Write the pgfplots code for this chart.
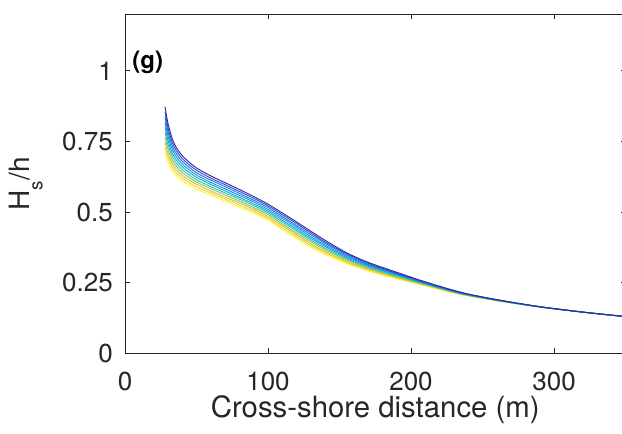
\documentclass[border=0pt]{standalone}
\usepackage{fontspec}
\setmainfont{TeX Gyre Heros}
\usepackage{pgfplots}
\usepackage{pgfplotstable}
\pgfplotsset{compat=1.18}
\definecolor{axgray}{rgb}{0.15,0.15,0.15}
\definecolor{p1}{rgb}{0.1900,0.1600,0.6000}
\definecolor{p2}{rgb}{0.1600,0.3000,0.8600}
\definecolor{p3}{rgb}{0.1200,0.4500,0.9200}
\definecolor{p4}{rgb}{0.0800,0.5800,0.8700}
\definecolor{p5}{rgb}{0.0300,0.6800,0.8200}
\definecolor{p6}{rgb}{0.2000,0.7600,0.6400}
\definecolor{p7}{rgb}{0.5000,0.7900,0.4000}
\definecolor{p8}{rgb}{0.8200,0.7500,0.2300}
\definecolor{p9}{rgb}{0.9900,0.8000,0.2000}
\definecolor{p10}{rgb}{0.9769,0.9839,0.0805}
\pgfplotstableread{
x   c1    c2    c3    c4    c5    c6    c7    c8    c9    c10
28  0.873 0.855 0.837 0.819 0.801 0.782 0.764 0.746 0.728 0.710
30  0.815 0.800 0.785 0.770 0.755 0.740 0.725 0.710 0.695 0.680
33  0.760 0.748 0.735 0.723 0.710 0.698 0.685 0.673 0.660 0.648
36  0.728 0.717 0.706 0.695 0.684 0.672 0.661 0.650 0.639 0.628
40  0.700 0.690 0.680 0.670 0.660 0.650 0.640 0.630 0.620 0.610
45  0.676 0.667 0.658 0.649 0.640 0.631 0.622 0.613 0.604 0.595
50  0.656 0.648 0.639 0.631 0.623 0.614 0.606 0.598 0.589 0.581
60  0.628 0.620 0.613 0.605 0.598 0.590 0.583 0.575 0.568 0.560
70  0.604 0.597 0.590 0.582 0.575 0.568 0.561 0.553 0.546 0.539
80  0.580 0.573 0.566 0.559 0.552 0.546 0.539 0.532 0.525 0.518
90  0.555 0.549 0.542 0.536 0.529 0.523 0.516 0.510 0.503 0.497
100 0.528 0.522 0.516 0.509 0.503 0.497 0.491 0.484 0.478 0.472
110 0.497 0.491 0.484 0.478 0.471 0.465 0.458 0.452 0.445 0.439
120 0.465 0.459 0.452 0.446 0.439 0.433 0.426 0.420 0.413 0.407
130 0.432 0.426 0.420 0.413 0.407 0.401 0.395 0.388 0.382 0.376
140 0.400 0.394 0.389 0.383 0.378 0.372 0.367 0.361 0.356 0.350
155 0.356 0.352 0.348 0.343 0.339 0.335 0.331 0.326 0.322 0.318
170 0.322 0.319 0.315 0.312 0.309 0.305 0.302 0.299 0.295 0.292
190 0.287 0.284 0.282 0.279 0.277 0.274 0.272 0.269 0.267 0.264
210 0.253 0.251 0.250 0.248 0.247 0.245 0.244 0.242 0.241 0.239
235 0.216 0.215 0.214 0.213 0.212 0.212 0.211 0.210 0.209 0.208
260 0.190 0.190 0.189 0.189 0.188 0.188 0.187 0.187 0.186 0.186
290 0.165 0.165 0.165 0.165 0.165 0.164 0.164 0.164 0.164 0.164
320 0.146 0.146 0.146 0.146 0.146 0.146 0.146 0.146 0.146 0.146
350 0.130 0.130 0.130 0.130 0.130 0.130 0.130 0.130 0.130 0.130
}\curves
\begin{document}
\begin{tikzpicture}
\begin{axis}[
  scale only axis,
  width=375.4pt, height=254.25pt,
  xmin=0, xmax=350, ymin=0, ymax=1.2,
  xtick={0,100,200,300},
  ytick={0,0.25,0.5,0.75,1},
  tick align=inside,
  major tick length=3.75pt,
  axis line style={axgray, line width=0.6pt},
  every tick/.style={axgray, line width=0.6pt},
  /pgf/number format/assume math mode=true,
  ticklabel style={font=\fontsize{19.5}{22}\selectfont, text=axgray},
  xticklabel style={inner sep=0pt, yshift=-14pt},
  yticklabel style={inner sep=0pt, xshift=-9pt},
  xlabel={Cross-shore distance (m)},
  ylabel={H\raisebox{-0.45em}{\fontsize{14}{14}\selectfont s}/h},
  xlabel style={font=\fontsize{22}{26}\selectfont, text=axgray, at={(axis description cs:0.5,-0.188)}, anchor=base, inner sep=0pt},
  ylabel style={font=\fontsize{21}{24}\selectfont, text=axgray, at={(axis description cs:-0.19,0.5)}, anchor=base, inner sep=0pt},
  every axis plot/.append style={line width=0.7pt, smooth, no markers},
]
\coordinate (bl) at (rel axis cs:0,0);
\addplot[p10] table[x=x,y=c10]{\curves};
\addplot[p9] table[x=x,y=c9]{\curves};
\addplot[p8] table[x=x,y=c8]{\curves};
\addplot[p7] table[x=x,y=c7]{\curves};
\addplot[p6] table[x=x,y=c6]{\curves};
\addplot[p5] table[x=x,y=c5]{\curves};
\addplot[p4] table[x=x,y=c4]{\curves};
\addplot[p3] table[x=x,y=c3]{\curves};
\addplot[p2] table[x=x,y=c2]{\curves};
\addplot[p1] table[x=x,y=c1]{\curves};
\node[anchor=west, inner sep=0pt, font=\bfseries\fontsize{18}{20}\selectfont] at (axis cs:5,1.03) {(g)};
\end{axis}
\pgfresetboundingbox
\path[use as bounding box] ([xshift=-93.75pt, yshift=-59.75pt]bl) rectangle ([xshift=372.75pt, yshift=265pt]bl);
\end{tikzpicture}
\end{document}
